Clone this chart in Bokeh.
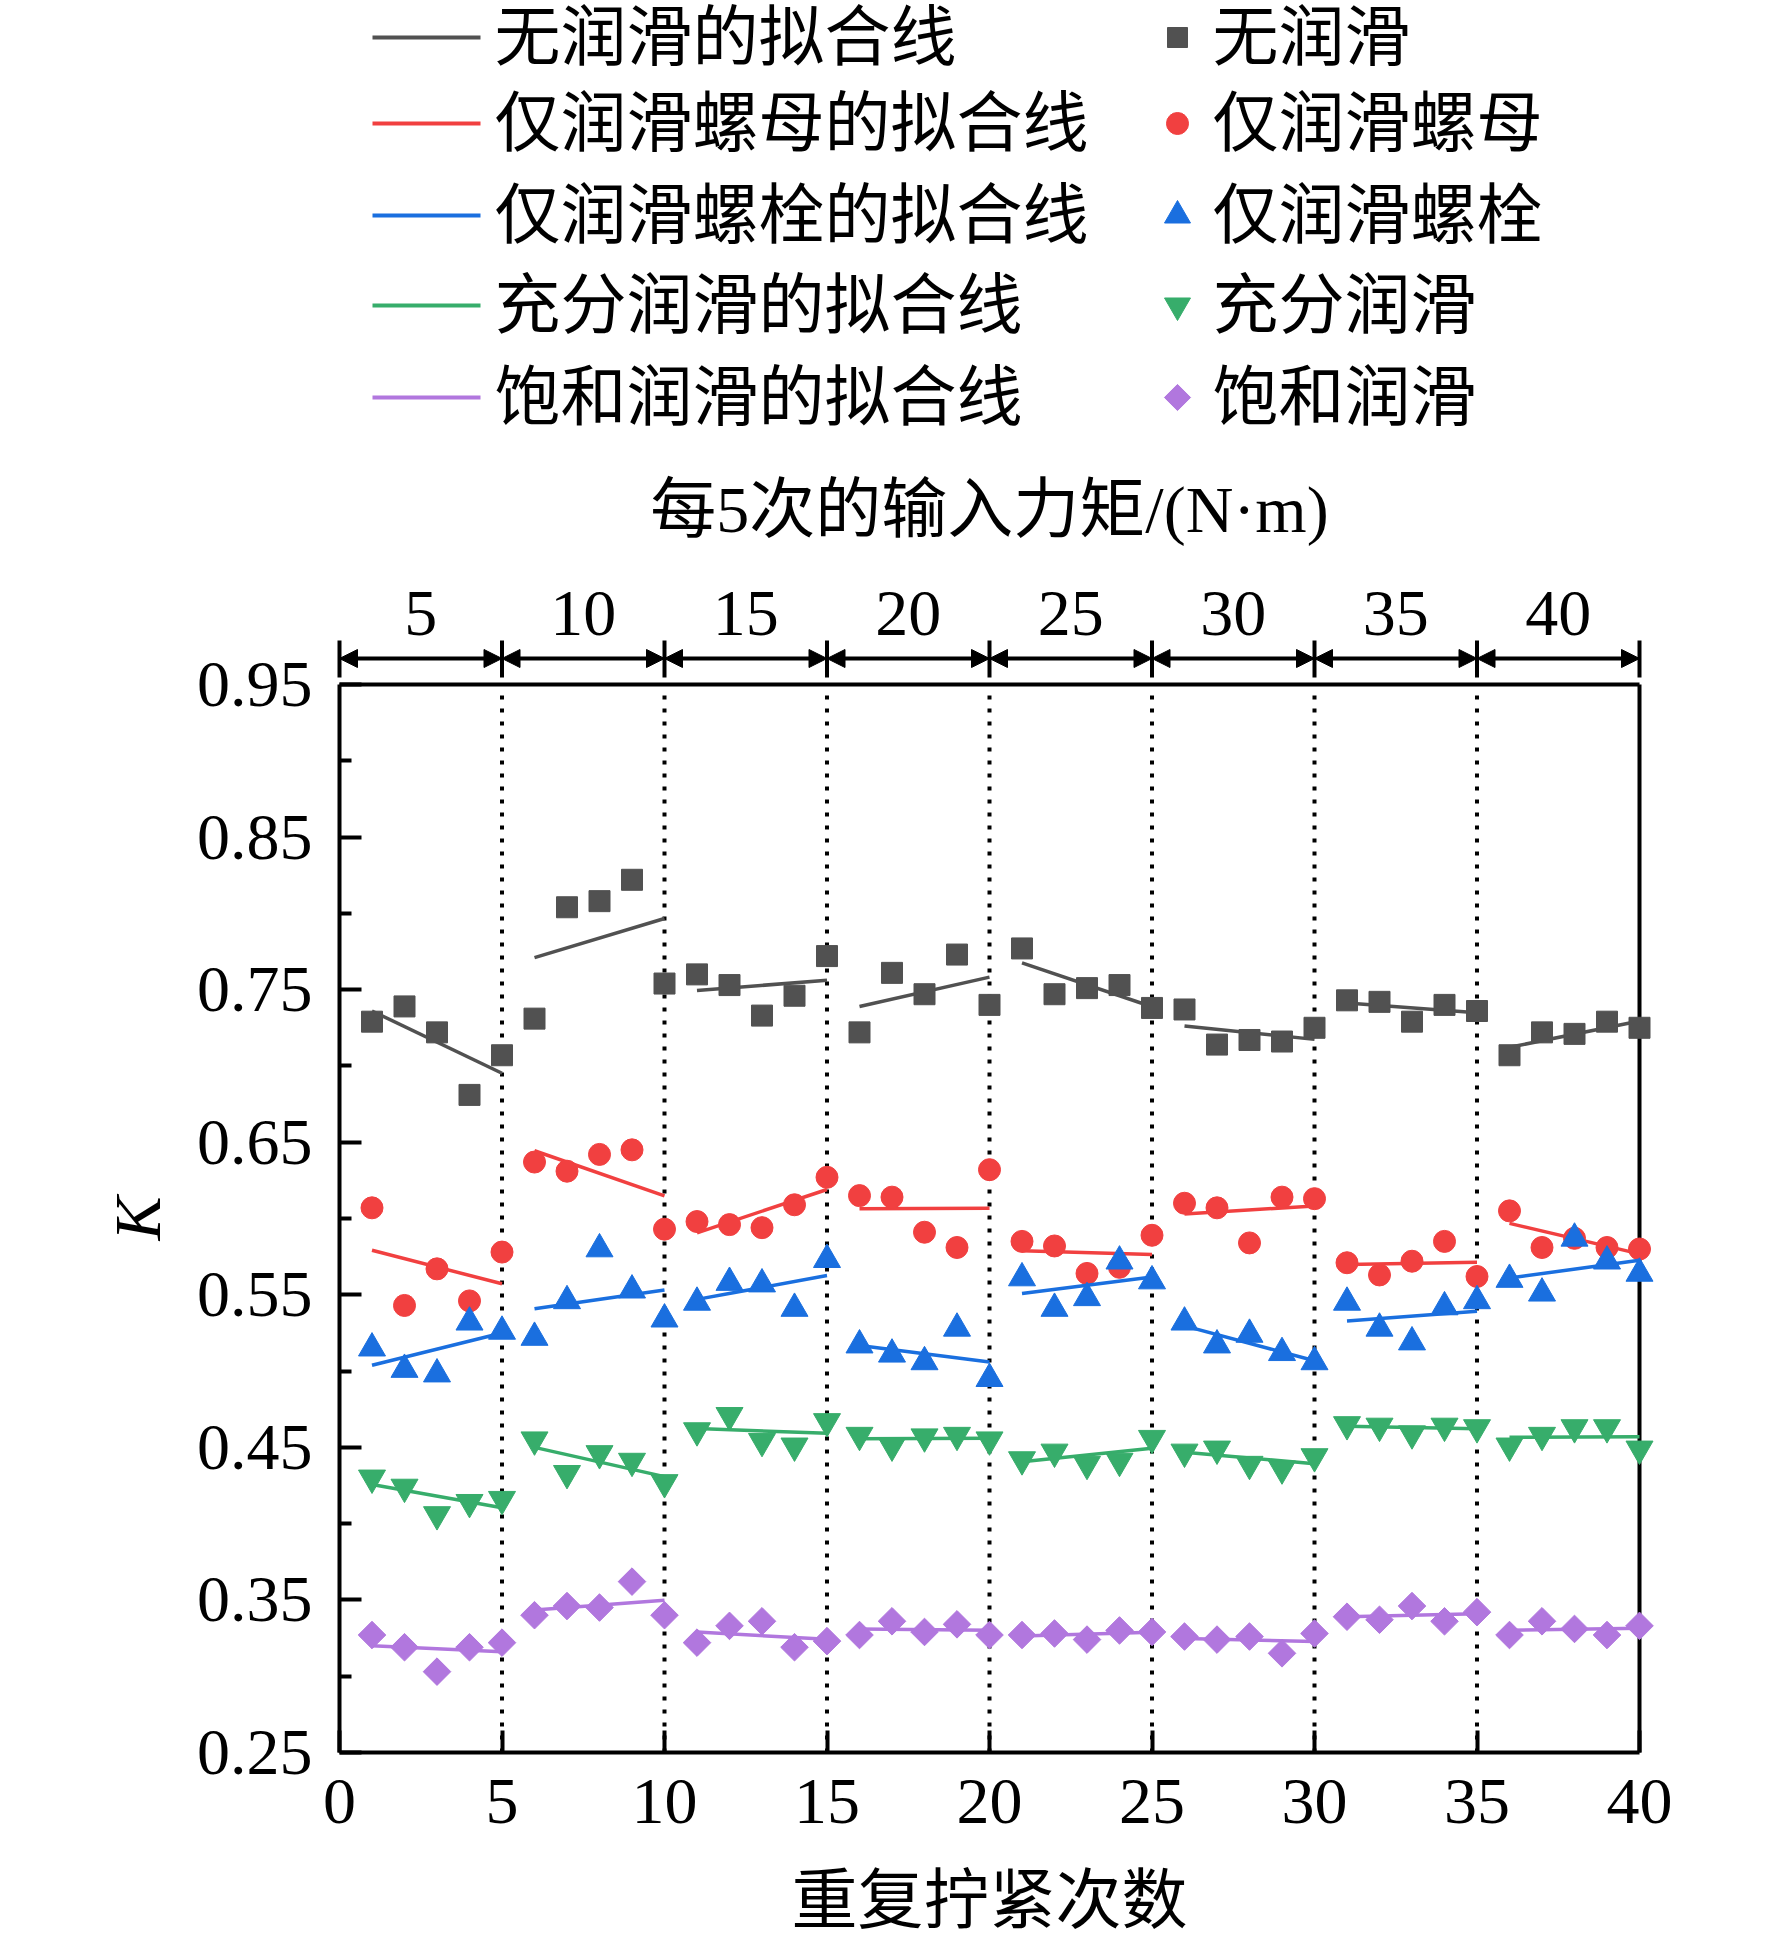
import numpy as np
from bokeh.plotting import figure
from bokeh.models import Range1d, FixedTicker, Arrow, NormalHead
from bokeh.core.properties import value
from bokeh.embed import file_html
from bokeh.resources import INLINE

# repeated tightening number and friction coefficient K for each lubrication case
runs = list(range(1, 41))
k_none = [0.729, 0.739, 0.722, 0.681, 0.707, 0.731, 0.804, 0.808, 0.822, 0.754,
          0.760, 0.753, 0.733, 0.746, 0.772, 0.722, 0.761, 0.747, 0.773, 0.740,
          0.777, 0.747, 0.751, 0.753, 0.738, 0.737, 0.714, 0.717, 0.716, 0.725,
          0.743, 0.742, 0.729, 0.740, 0.736, 0.707, 0.722, 0.721, 0.729, 0.725]
k_nut = [0.607, 0.543, 0.567, 0.546, 0.578, 0.637, 0.631, 0.642, 0.645, 0.593,
         0.598, 0.596, 0.594, 0.609, 0.627, 0.615, 0.614, 0.591, 0.581, 0.632,
         0.585, 0.582, 0.564, 0.568, 0.589, 0.610, 0.607, 0.584, 0.614, 0.613,
         0.571, 0.563, 0.572, 0.585, 0.562, 0.605, 0.581, 0.587, 0.581, 0.580]
k_bolt = [0.515, 0.501, 0.498, 0.532, 0.526, 0.522, 0.546, 0.580, 0.553, 0.534,
          0.545, 0.558, 0.557, 0.541, 0.573, 0.517, 0.511, 0.506, 0.528, 0.495,
          0.561, 0.541, 0.548, 0.572, 0.559, 0.532, 0.517, 0.524, 0.512, 0.506,
          0.545, 0.528, 0.519, 0.542, 0.546, 0.560, 0.551, 0.587, 0.572, 0.564]
k_full = [0.430, 0.424, 0.406, 0.414, 0.416, 0.455, 0.433, 0.446, 0.441, 0.427,
          0.461, 0.471, 0.454, 0.451, 0.467, 0.458, 0.451, 0.457, 0.458, 0.455,
          0.442, 0.447, 0.439, 0.441, 0.456, 0.447, 0.449, 0.439, 0.436, 0.444,
          0.465, 0.464, 0.459, 0.464, 0.463, 0.451, 0.458, 0.463, 0.463, 0.449]
k_sat = [0.327, 0.319, 0.303, 0.319, 0.322, 0.340, 0.346, 0.345, 0.362, 0.340,
         0.322, 0.333, 0.336, 0.319, 0.323, 0.327, 0.336, 0.329, 0.334, 0.327,
         0.327, 0.328, 0.324, 0.330, 0.329, 0.326, 0.324, 0.326, 0.315, 0.328,
         0.339, 0.337, 0.346, 0.336, 0.342, 0.327, 0.336, 0.331, 0.327, 0.333]

torques = [5, 10, 15, 20, 25, 30, 35, 40]
group = 5

fit_names = ["无润滑的拟合线", "仅润滑螺母的拟合线", "仅润滑螺栓的拟合线",
             "充分润滑的拟合线", "饱和润滑的拟合线"]
point_names = ["无润滑", "仅润滑螺母", "仅润滑螺栓", "充分润滑", "饱和润滑"]

y_ticks = [0.25, 0.35, 0.45, 0.55, 0.65, 0.75, 0.85, 0.95]
y_minor = [0.30, 0.40, 0.50, 0.60, 0.70, 0.80, 0.90]

# styles: colour, marker, size, angle, legend size
styles = [
    ("#515151", "square", 21, 0.0, 20),
    ("#F14040", "circle", 22, 0.0, 22),
    ("#1A6FDF", "triangle", 27, 0.0, 26),
    ("#37AD6B", "inverted_triangle", 27, 0.0, 26),
    ("#B177DE", "square", 19.5, np.pi / 4, 18.5),
]
series = [k_none, k_nut, k_bolt, k_full, k_sat]

SERIF = "Liberation Serif"
MIXED = "Liberation Serif, Noto Sans CJK SC"
FS = "66px"

# layout (canvas pixels); the frame covers the whole canvas
W, H = 1756, 1940
LEFT, RIGHT = 339, 1639      # x = 0 and x = 40
BOTTOM, TOP = 1752, 684      # y = 0.25 and y = 0.95
x_max = 40
y0, y1 = 0.25, 0.95
ppx = (RIGHT - LEFT) / x_max
ppy = (BOTTOM - TOP) / (y1 - y0)


def dx(c):
    return (c - LEFT) / ppx


def dy(c):
    return y0 + (BOTTOM - c) / ppy


p = figure(width=W, height=H, x_range=Range1d(dx(0), dx(W)), y_range=Range1d(dy(H), dy(0)),
           output_backend="svg", toolbar_location=None,
           min_border_left=0, min_border_right=0, min_border_top=0, min_border_bottom=0)
p.outline_line_color = None
p.grid.visible = False

# axes pinned to x = 0 and y = 0.25
xa = p.xaxis[0]
xa.ticker = FixedTicker(ticks=list(range(0, 41, 5)), minor_ticks=[])
xa.bounds = (0, x_max)
xa.fixed_location = y0
ya = p.yaxis[0]
ya.ticker = FixedTicker(ticks=y_ticks, minor_ticks=y_minor)
ya.bounds = (y0, y1)
ya.fixed_location = 0
for ax in (xa, ya):
    ax.axis_line_width = 4
    ax.major_tick_line_width = 4
    ax.minor_tick_line_width = 4
    ax.major_tick_in = 22
    ax.major_tick_out = 0
    ax.minor_tick_in = 12
    ax.minor_tick_out = 0
    ax.major_label_text_font = SERIF
    ax.major_label_text_font_size = FS
    ax.major_label_text_color = "black"
xa.major_label_standoff = 27
ya.major_label_standoff = 27

# top and right edges of the frame, dotted separators
p.segment(x0=[0, x_max], y0=[y1, y0], x1=[x_max, x_max], y1=[y1, y1],
          line_color="black", line_width=4)
seps = list(range(group, x_max, group))
p.segment(x0=seps, y0=[y0] * len(seps), x1=seps, y1=[y1 - 0.006] * len(seps),
          line_color="black", line_width=4, line_dash="4 9")

# least-squares fit of every block of five, then the points
for vals, (col, mk, sz, ang, _) in zip(series, styles):
    xs_l, ys_l = [], []
    for g in range(len(runs) // group):
        xs = np.array(runs[g * group:(g + 1) * group], dtype=float)
        ys = np.array(vals[g * group:(g + 1) * group])
        slope, icpt = np.polyfit(xs, ys, 1)
        xs_l.append([xs[0], xs[-1]])
        ys_l.append([icpt + slope * xs[0], icpt + slope * xs[-1]])
    p.multi_line(xs_l, ys_l, line_color=col, line_width=3.5)
    p.scatter(runs, vals, marker=mk, size=sz, angle=ang, fill_color=col, line_color=col,
              line_width=1)

# torque scale above the frame
for i in range(len(torques)):
    p.add_layout(Arrow(x_start=i * group, x_end=(i + 1) * group, y_start=dy(658),
                       y_end=dy(658), line_width=4, line_color="black",
                       start=NormalHead(size=18, fill_color="black", line_color="black",
                                        line_width=1),
                       end=NormalHead(size=18, fill_color="black", line_color="black",
                                      line_width=1)))
bars = list(range(0, x_max + 1, group))
p.segment(x0=bars, y0=[dy(640)] * len(bars), x1=bars, y1=[dy(677)] * len(bars),
          line_color="black", line_width=4)
p.text(x=[i * group + group / 2 for i in range(len(torques))], y=[dy(613)] * len(torques),
       text=[str(t) for t in torques], text_font=value(SERIF), text_font_size=FS,
       text_align="center", text_baseline="middle", text_color="black")
p.text(x=[x_max / 2], y=[dy(509)], text=["每5次的输入力矩/(N·m)"], text_font=value(MIXED),
       text_font_size=FS, text_align="center", text_baseline="middle", text_color="black")

# legend
rows = [37, 123, 215, 305, 397]
for r, (col, mk, _, ang, lsz), fn, pn in zip(rows, styles, fit_names, point_names):
    ry = dy(r)
    p.line([dx(372), dx(480)], [ry, ry], line_color=col, line_width=4)
    p.text(x=[dx(494)], y=[ry], text=[fn], text_font=value(MIXED), text_font_size=FS,
           text_align="left", text_baseline="middle", text_color="black")
    p.scatter([dx(1177)], [ry], marker=mk, size=lsz, angle=ang, fill_color=col,
              line_color=col)
    p.text(x=[dx(1212)], y=[ry], text=[pn], text_font=value(MIXED), text_font_size=FS,
           text_align="left", text_baseline="middle", text_color="black")

# axis titles
p.text(x=[x_max / 2], y=[dy(1900)], text=["重复拧紧次数"], text_font=value(MIXED),
       text_font_size=FS, text_align="center", text_baseline="middle", text_color="black")
p.text(x=[dx(137)], y=[(y0 + y1) / 2], text=["K"], angle=np.pi / 2, text_font=value(SERIF),
       text_font_style="italic", text_font_size=FS, text_align="center",
       text_baseline="middle", text_color="black")

open("out.html", "w").write(file_html(p, INLINE))
